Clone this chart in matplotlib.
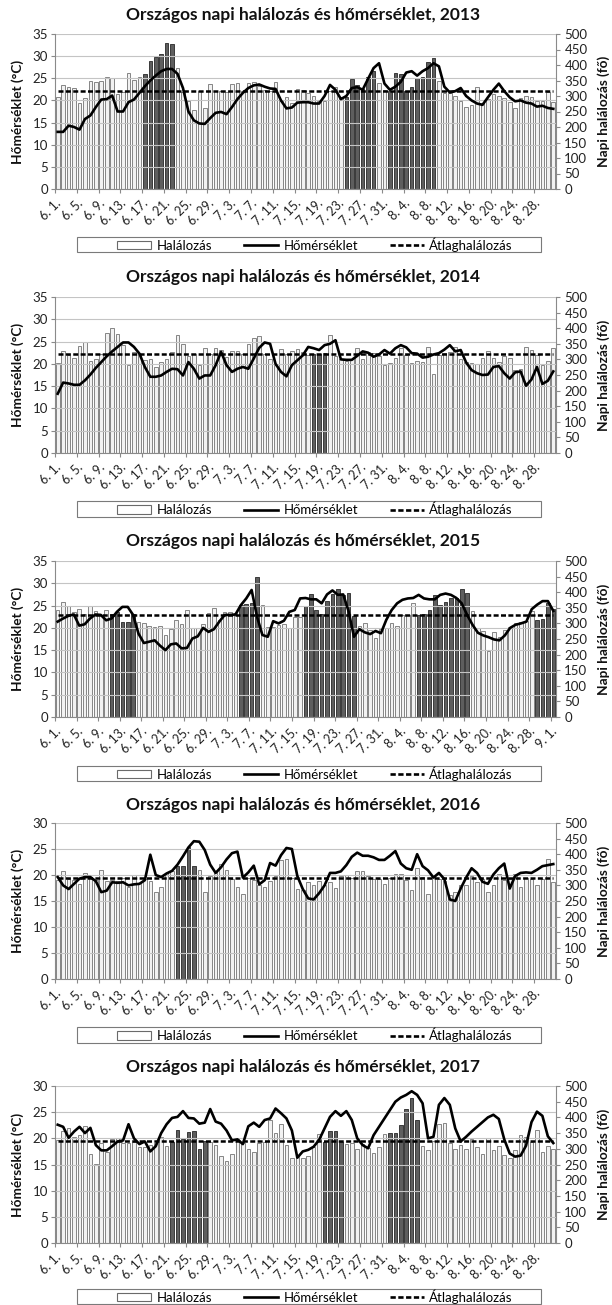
import matplotlib
matplotlib.use("Agg")
import matplotlib.pyplot as plt
import numpy as np
import pandas as pd
from matplotlib.patches import Patch, Rectangle
from matplotlib.lines import Line2D

plt.rcParams['font.family'] = ['Lato', 'DejaVu Sans']

years = [2013, 2014, 2015, 2016, 2017]

# ---- 2013 ----
deaths_2013 = [296, 336, 329, 326, 277, 293, 348, 344, 348, 360, 357, 306, 314, 374, 353, 361, 371, 414, 426, 434,
               471, 467, 389, 312, 283, 256, 315, 261, 340, 315, 315, 313, 338, 341, 315, 342, 344, 333, 320, 315,
               346, 283, 297, 277, 323, 318, 310, 300, 285, 283, 315, 330, 298, 297, 355, 337, 322, 360, 380, 343,
               320, 315, 375, 372, 315, 330, 357, 360, 410, 422, 350, 310, 310, 300, 285, 265, 270, 328, 278, 290,
               305, 300, 295, 280, 260, 295, 300, 297, 285, 285, 312, 282]
temp_2013 = [12.9, 12.9, 14.3, 14.0, 13.4, 15.8, 16.6, 18.5, 20.2, 20.3, 21.1, 17.5, 17.5, 19.6, 20.2, 21.7, 23.2, 24.5,
             25.6, 26.6, 27.1, 27.1, 26.0, 22.8, 17.5, 15.5, 14.8, 14.7, 16.0, 17.2, 17.4, 16.9, 18.5, 20.3, 21.7, 22.8,
             23.4, 23.6, 23.1, 22.7, 22.6, 20.0, 18.2, 18.4, 19.5, 19.6, 19.6, 19.3, 19.3, 21.0, 23.5, 22.4, 20.3, 21.0,
             22.8, 23.0, 22.4, 24.9, 27.3, 28.4, 23.8, 22.4, 23.1, 24.2, 26.3, 26.6, 25.6, 26.6, 27.3, 28.4, 27.7, 23.1,
             21.8, 22.1, 22.8, 21.0, 20.0, 19.3, 19.0, 20.7, 22.4, 23.8, 22.1, 20.7, 19.8, 20.0, 19.5, 19.3, 18.6, 18.8,
             18.3, 18.1]
avg_2013 = 315
heat_2013 = [(16, 21), (53, 58), (61, 69)]

# ---- 2014 ----
deaths_2014 = [290, 326, 313, 304, 342, 356, 294, 302, 318, 386, 401, 383, 345, 283, 324, 316, 297, 302, 276, 292,
               300, 323, 377, 350, 311, 318, 282, 336, 318, 336, 329, 308, 327, 327, 318, 349, 367, 376, 318, 302,
               281, 332, 317, 326, 333, 324, 315, 318, 318, 320, 378, 310, 300, 295, 300, 335, 302, 325, 320, 310,
               282, 290, 305, 335, 315, 288, 295, 293, 340, 252, 315, 320, 325, 340, 300, 292, 290, 285, 303, 328,
               305, 292, 310, 305, 265, 268, 340, 330, 315, 282, 295, 338]
temp_2014 = [13.3, 15.8, 15.6, 15.3, 15.3, 16.3, 17.6, 19.1, 20.4, 21.7, 22.8, 23.8, 24.8, 24.8, 23.8, 22.3, 19.3, 17.1,
             17.1, 17.4, 18.2, 18.9, 18.8, 17.4, 20.4, 18.9, 16.7, 17.4, 17.4, 19.7, 22.7, 19.7, 18.2, 18.9, 19.3, 18.9,
             21.2, 23.6, 24.8, 24.5, 20.0, 18.2, 17.2, 19.7, 20.8, 21.9, 23.8, 23.5, 23.1, 24.2, 24.5, 25.3, 21.0, 20.9,
             20.9, 21.8, 22.8, 22.5, 21.6, 22.1, 23.1, 22.3, 23.5, 24.2, 23.7, 22.4, 22.3, 21.4, 21.6, 22.1, 22.4, 23.2,
             24.2, 22.8, 23.1, 20.3, 18.6, 17.9, 17.5, 17.6, 19.3, 19.5, 17.9, 16.7, 18.1, 18.3, 15.1, 16.5, 19.3, 15.5,
             16.2, 18.3]
avg_2014 = 318
heat_2014 = [(47, 49)]

# ---- 2015 (6.1. - 9.1.) ----
deaths_2015 = [343, 367, 356, 335, 346, 329, 356, 340, 325, 343, 329, 335, 305, 305, 329, 303, 300, 292, 287, 291,
               262, 282, 311, 297, 343, 286, 286, 297, 332, 348, 311, 335, 335, 332, 359, 361, 364, 450, 360, 289,
               289, 294, 297, 286, 321, 321, 357, 393, 343, 329, 372, 393, 411, 391, 396, 324, 292, 300, 279, 252,
               282, 284, 302, 293, 327, 327, 366, 327, 331, 342, 391, 359, 370, 380, 382, 409, 398, 340, 285, 275,
               210, 272, 258, 280, 290, 300, 305, 308, 340, 310, 315, 365, 345]
temp_2015 = [21.4, 22.1, 22.7, 23.0, 20.5, 20.8, 22.1, 23.0, 22.9, 21.7, 22.1, 23.6, 24.7, 24.7, 22.9, 18.7, 16.6, 16.9,
             17.2, 16.0, 15.0, 16.3, 16.5, 15.4, 15.5, 17.6, 18.1, 20.0, 19.1, 19.7, 21.4, 22.9, 22.9, 23.0, 25.1, 26.6,
             28.5, 22.5, 18.4, 18.0, 21.5, 21.0, 21.6, 23.6, 24.0, 26.6, 26.7, 26.4, 26.4, 25.5, 27.5, 28.4, 27.4, 27.5,
             23.7, 18.0, 19.7, 19.0, 18.6, 19.3, 18.8, 21.8, 24.0, 25.5, 26.3, 26.6, 26.7, 27.4, 26.6, 26.4, 26.4, 27.4,
             27.7, 27.4, 26.7, 25.5, 22.9, 20.7, 18.9, 18.3, 17.9, 17.4, 17.2, 18.3, 20.0, 20.7, 21.0, 21.4, 24.2, 25.2,
             26.0, 26.0, 23.8]
avg_2015 = 327
heat_2015 = [(10, 14), (34, 37), (46, 55), (67, 76), (89, 92)]

# ---- 2016 ----
deaths_2016 = [318, 347, 320, 318, 304, 339, 327, 318, 350, 315, 318, 313, 323, 296, 334, 309, 320, 313, 280, 296,
               339, 345, 361, 363, 423, 363, 350, 280, 329, 345, 369, 350, 320, 296, 272, 323, 318, 302, 296, 313,
               329, 382, 384, 323, 288, 286, 312, 300, 315, 300, 310, 292, 330, 332, 325, 345, 345, 330, 322, 320,
               305, 325, 335, 335, 318, 285, 355, 328, 272, 330, 320, 315, 268, 278, 300, 300, 330, 312, 320, 280,
               300, 335, 318, 322, 335, 295, 325, 320, 300, 322, 385, 312]
temp_2016 = [19.6, 18.0, 17.3, 18.3, 19.3, 19.6, 19.6, 18.8, 16.7, 17.0, 18.6, 18.5, 18.6, 18.0, 18.2, 18.3, 19.0, 23.9,
             20.0, 19.6, 20.3, 20.8, 22.0, 23.6, 25.3, 26.5, 26.4, 24.8, 22.0, 20.4, 21.5, 23.0, 24.2, 24.5, 19.5, 20.5,
             21.8, 18.2, 19.0, 22.3, 21.8, 23.8, 25.2, 25.0, 19.8, 17.3, 15.5, 15.3, 16.5, 18.0, 20.4, 20.4, 20.7, 21.9,
             23.5, 24.3, 23.7, 23.7, 23.4, 22.9, 22.9, 23.7, 24.6, 22.2, 21.3, 21.0, 24.0, 21.7, 20.9, 19.5, 20.4, 19.2,
             15.3, 15.0, 17.4, 19.5, 21.3, 20.4, 18.7, 18.3, 20.1, 21.3, 22.2, 17.4, 19.8, 20.4, 20.5, 20.4, 21.0, 21.7,
             21.9, 22.1]
avg_2016 = 325
heat_2016 = [(22, 25)]

# ---- 2017 ----
deaths_2017 = [328, 357, 367, 338, 345, 372, 285, 252, 318, 290, 330, 333, 318, 317, 322, 307, 307, 313, 318, 337,
               308, 322, 360, 330, 352, 358, 298, 325, 323, 313, 277, 260, 282, 330, 317, 300, 290, 320, 322, 392,
               350, 380, 313, 272, 275, 272, 277, 307, 346, 323, 357, 358, 323, 314, 320, 299, 314, 302, 286, 307,
               347, 351, 349, 376, 427, 461, 392, 310, 295, 325, 378, 382, 318, 300, 312, 300, 330, 305, 285, 335,
               295, 310, 280, 270, 295, 345, 338, 322, 360, 290, 310, 300]
temp_2017 = [22.6, 22.2, 20.1, 21.3, 22.2, 21.0, 22.0, 18.7, 17.7, 17.7, 18.5, 19.4, 19.6, 22.7, 20.0, 18.9, 19.4, 17.5,
             18.5, 21.0, 22.7, 23.9, 24.1, 25.2, 23.9, 23.8, 22.8, 23.0, 25.6, 23.2, 22.8, 21.5, 19.6, 19.8, 18.9, 22.3,
             23.0, 22.2, 23.5, 23.8, 25.7, 24.8, 23.8, 21.5, 16.3, 17.5, 17.8, 18.4, 19.7, 21.9, 24.1, 25.2, 24.3, 25.2,
             23.5, 20.0, 18.7, 18.1, 20.6, 22.2, 23.8, 25.4, 27.0, 27.8, 28.3, 29.0, 28.3, 26.7, 20.0, 20.3, 26.4, 27.7,
             26.4, 21.9, 19.4, 20.3, 21.3, 22.2, 23.1, 24.0, 24.5, 23.7, 19.8, 17.1, 16.5, 16.7, 18.6, 23.1, 25.1, 24.3,
             20.4, 19.1]
avg_2017 = 324
heat_2017 = [(21, 27), (49, 52), (61, 66)]

temp_max = {2013: 35, 2014: 35, 2015: 35, 2016: 30, 2017: 30}
deaths_max = 500

labels_2013 = [f"{d.month}. {d.day}." for d in pd.date_range("2013-06-01", periods=len(deaths_2013))]
labels_2014 = [f"{d.month}. {d.day}." for d in pd.date_range("2014-06-01", periods=len(deaths_2014))]
labels_2015 = [f"{d.month}. {d.day}." for d in pd.date_range("2015-06-01", periods=len(deaths_2015))]
labels_2016 = [f"{d.month}. {d.day}." for d in pd.date_range("2016-06-01", periods=len(deaths_2016))]
labels_2017 = [f"{d.month}. {d.day}." for d in pd.date_range("2017-06-01", periods=len(deaths_2017))]

data = {
    2013: (deaths_2013, temp_2013, avg_2013, heat_2013, labels_2013),
    2014: (deaths_2014, temp_2014, avg_2014, heat_2014, labels_2014),
    2015: (deaths_2015, temp_2015, avg_2015, heat_2015, labels_2015),
    2016: (deaths_2016, temp_2016, avg_2016, heat_2016, labels_2016),
    2017: (deaths_2017, temp_2017, avg_2017, heat_2017, labels_2017),
}

W, H = 612, 1305
fig = plt.figure(figsize=(W / 100, H / 100), dpi=100)

panel_px = [(34, 189), (297, 453), (561, 717), (823, 979), (1086, 1243)]
title_px = [15, 277, 541, 805, 1067]
legend_px = [(237, 252), (501, 517), (766, 781), (1027, 1043), (1289, 1304)]
ax_left, ax_right = 55, 556

GRID = '#c4c4c4'
SPINE = '#8a8a8a'
LIGHT_FACE, LIGHT_EDGE = '#f2f2f2', '#858585'
DARK_FACE, DARK_EDGE = '#5e5e5e', '#3a3a3a'
DASH = (0, (2.0, 0.95))

def fx(px):
    return px / W

def fy(py):
    return 1 - py / H

for k, yr in enumerate(years):
    deaths, temps, avg, heat, labels = data[yr]
    n = len(deaths)
    top, bot = panel_px[k]
    rect = [fx(ax_left), fy(bot), fx(ax_right - ax_left), (bot - top) / H]
    ax_d = fig.add_axes(rect)               # deaths (right axis), drawn beneath
    ax_t = fig.add_axes(rect, sharex=ax_d)  # temperature (left axis)
    ax_t.patch.set_visible(False)
    ax_d.set_zorder(1)
    ax_t.set_zorder(2)

    x = np.arange(n) + 0.5
    dark = np.zeros(n, dtype=bool)
    for a, b in heat:
        dark[a:b + 1] = True
    faces = [DARK_FACE if d else LIGHT_FACE for d in dark]
    edges = [DARK_EDGE if d else LIGHT_EDGE for d in dark]
    ax_d.bar(x, deaths, width=0.66, color=faces, edgecolor=edges, linewidth=0.7, zorder=2)
    ax_d.plot([x[0], x[-1]], [avg, avg], color='black', lw=1.8, ls=DASH, zorder=3)
    ax_d.set_ylim(0, deaths_max)
    ax_d.set_yticks(np.arange(0, deaths_max + 1, 50))
    ax_d.yaxis.tick_right()
    ax_d.tick_params(axis='y', which='both', length=3, width=0.8, color=SPINE, labelsize=9.5, pad=3,
                     labelcolor='#222222', left=False, labelleft=False, right=True, labelright=True)
    ax_d.tick_params(axis='x', bottom=False, labelbottom=False)
    for s in ['top', 'left', 'bottom']:
        ax_d.spines[s].set_visible(False)
    ax_d.spines['right'].set_color(SPINE)
    ax_d.spines['right'].set_linewidth(0.8)

    tmax = temp_max[yr]
    ax_t.plot(x, temps, color='black', lw=1.9, solid_joinstyle='round', zorder=4)
    ax_t.set_ylim(0, tmax)
    ax_t.set_yticks(np.arange(0, tmax + 1, 5))
    ax_t.grid(axis='y', color=GRID, lw=0.8, zorder=0)
    ax_t.tick_params(axis='y', length=3, width=0.8, color=SPINE, labelsize=9.5, pad=2, labelcolor='#222222',
                     right=False, labelright=False)
    ax_t.set_xlim(0, n)
    tick_pos = np.arange(0, n, 4)
    ax_t.set_xticks(tick_pos)
    ax_t.set_xticklabels([labels[i] for i in tick_pos], rotation=45, ha='right', va='top',
                         rotation_mode='anchor', fontsize=9, color='#222222')
    ax_t.tick_params(axis='x', length=3, width=0.8, color=SPINE, pad=3)
    for s in ['top', 'right']:
        ax_t.spines[s].set_visible(False)
    for s in ['left', 'bottom']:
        ax_t.spines[s].set_color(SPINE)
        ax_t.spines[s].set_linewidth(0.8)

    ymid = (top + bot) / 2
    fig.text(fx(303), fy(title_px[k]), f"Országos napi halálozás és hőmérséklet, {yr}",
             ha='center', va='center', fontsize=12.5, fontweight='bold', color='#111111')
    fig.text(fx(18), fy(ymid), "Hőmérséklet (°C)", rotation=90, ha='center', va='center',
             fontsize=9.8, fontweight='bold', color='#111111')
    fig.text(fx(604), fy(ymid), "Napi halálozás (fő)", rotation=90, ha='center', va='center',
             fontsize=9.8, fontweight='bold', color='#111111')

    lt, lb = legend_px[k]
    fig.patches.append(Rectangle((fx(77), fy(lb)), fx(541 - 77), (lb - lt) / H, transform=fig.transFigure,
                                 fill=False, edgecolor='#7a7a7a', lw=0.8))
    handles = [Patch(facecolor='white', edgecolor='#6a6a6a', lw=0.8),
               Line2D([], [], color='black', lw=1.9),
               Line2D([], [], color='black', lw=1.9, ls=DASH)]
    fig.legend(handles, ["Halálozás", "Hőmérséklet", "Átlaghalálozás"], loc='center',
               bbox_to_anchor=(fx(315), fy((lt + lb) / 2)), ncol=3, frameon=False, fontsize=9.5,
               handlelength=2.6, handleheight=0.6, handletextpad=0.4, columnspacing=2.4,
               borderpad=0, borderaxespad=0)

fig.savefig("out.png", dpi=100)
